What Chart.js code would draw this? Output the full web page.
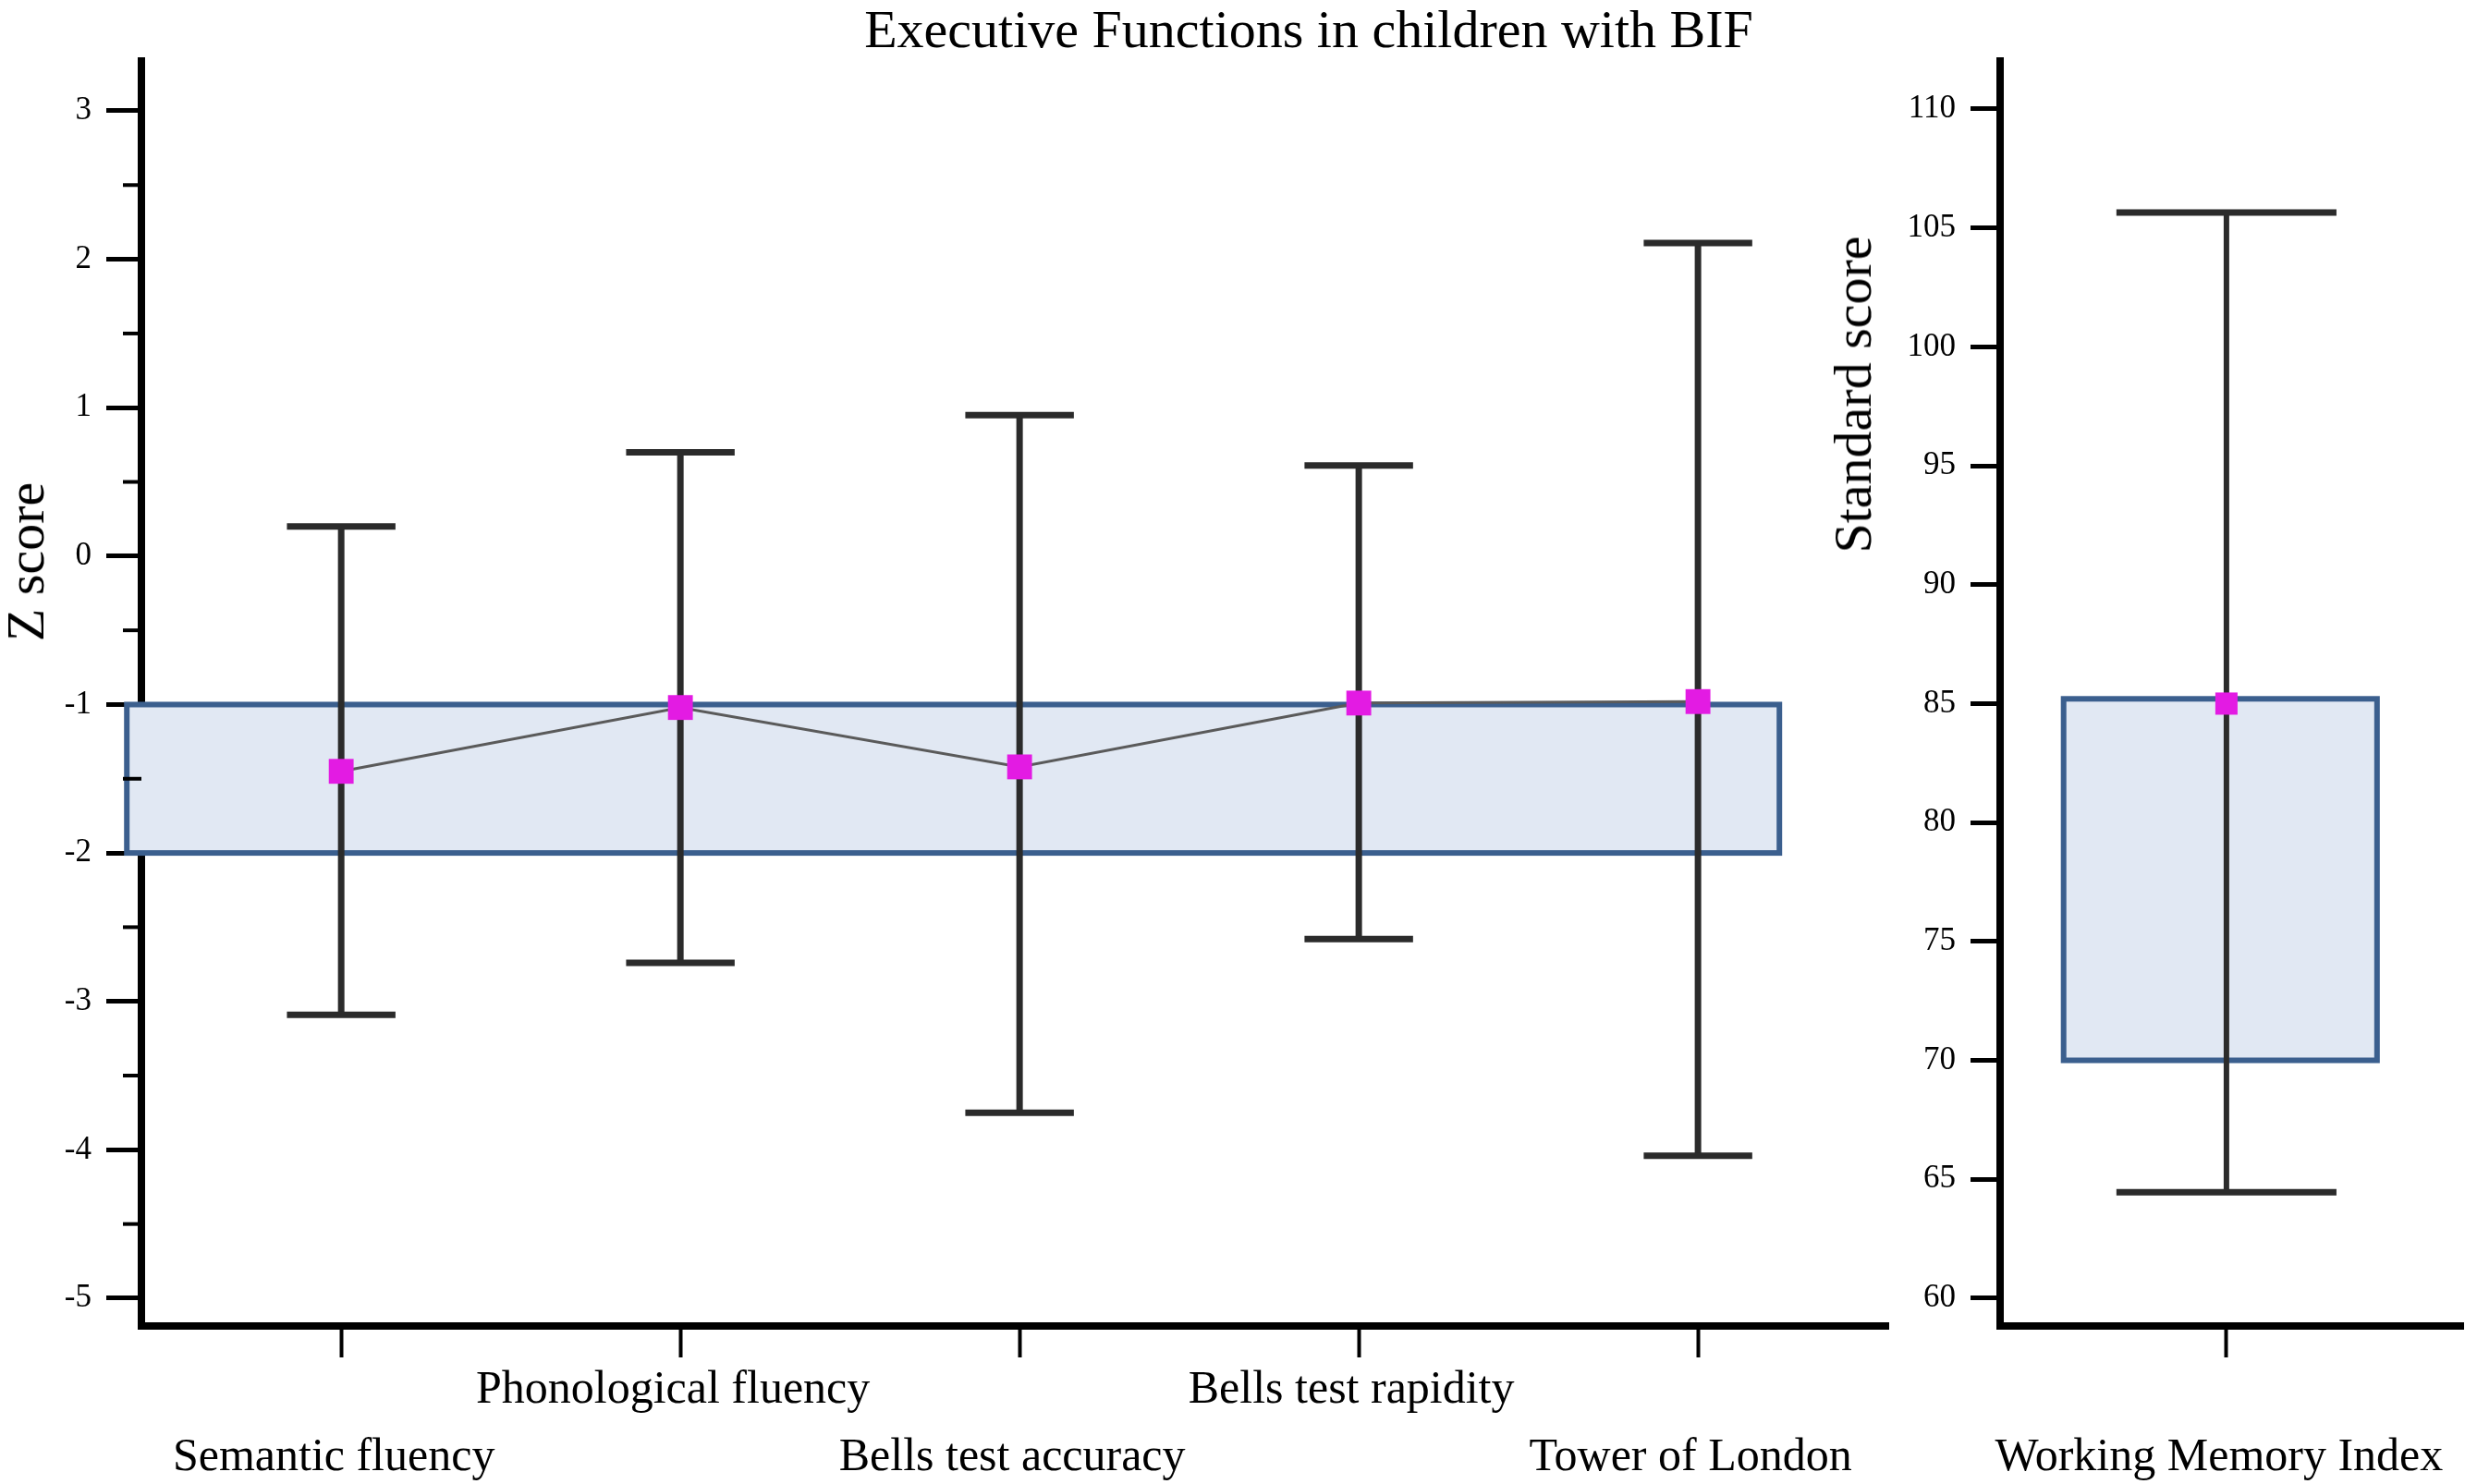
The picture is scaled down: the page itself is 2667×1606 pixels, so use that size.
<!DOCTYPE html>
<html>
<head>
<meta charset="utf-8">
<title>Executive Functions in children with BIF</title>
<script src="https://cdn.jsdelivr.net/npm/chart.js@4.4.1/dist/chart.umd.min.js"></script>
<style>
  html, body { margin: 0; padding: 0; background: #fff; overflow: hidden; width: 2667px; height: 1606px; }
  .txt { position: absolute; font-family: 'Liberation Serif', 'Times New Roman', serif; color: #000; white-space: nowrap; }
  #title { top: 3px; left: 200px; width: 2432px; text-align: center; font-size: 58px; line-height: 58px; }
  .ytitle { font-size: 58px; line-height: 58px; transform: translate(-50%, -50%) rotate(-90deg); }
  #left { position: absolute; left: 0; top: 0; width: 2060px; height: 1606px; }
  #right { position: absolute; left: 1975px; top: 0; width: 692px; height: 1606px; }
</style>
</head>
<body>
<div id="left"><canvas id="efChart"></canvas></div>
<div id="right"><canvas id="wmChart"></canvas></div>
<div id="title" class="txt">Executive Functions in children with BIF</div>
<div class="txt ytitle" style="left:28px; top:608px;">Z score</div>
<div class="txt ytitle" style="left:2005px; top:427px;">Standard score</div>
<script>
// left panel: z scores
const tests = ["Semantic fluency", "Phonological fluency", "Bells test accuracy", "Bells test rapidity", "Tower of London"];
const zMeans = [-1.45, -1.02, -1.42, -0.99, -0.98];
const zLow = [-3.09, -2.74, -3.75, -2.58, -4.04];
const zHigh = [0.20, 0.70, 0.95, 0.61, 2.11];
const zBand = [-2, -1];
const zTicks = [-5, -4, -3, -2, -1, 0, 1, 2, 3];

// right panel: standard score
const wmTests = ["Working Memory Index"];
const wmMeans = [85];
const wmLow = [64.45];
const wmHigh = [105.65];
const wmBand = [70, 85.2];
const wmTicks = [60, 65, 70, 75, 80, 85, 90, 95, 100, 105, 110];

const serif = "'Liberation Serif', 'Times New Roman', serif";
const barColor = '#2b2b2b';

// band + error bars, drawn under the mean line
function rangesPlugin(o) {
    return {
        id: 'ranges',
        beforeDatasetsDraw(chart) {
            const ctx = chart.ctx;
            const x = chart.scales.x, y = chart.scales.y;
            const bx0 = x.getPixelForValue(o.bandFrom), bx1 = x.getPixelForValue(o.bandTo);
            const by0 = y.getPixelForValue(o.band[1]), by1 = y.getPixelForValue(o.band[0]);
            ctx.save();
            ctx.fillStyle = '#e1e8f3';
            ctx.fillRect(bx0, by0, bx1 - bx0, by1 - by0);
            ctx.lineWidth = o.bandLine;
            ctx.strokeStyle = '#3b5f8e';
            ctx.strokeRect(bx0, by0, bx1 - bx0, by1 - by0);

            ctx.strokeStyle = barColor;
            o.low.forEach(function (lo, i) {
                const px = x.getPixelForValue(i);
                const pl = y.getPixelForValue(lo);
                const ph = y.getPixelForValue(o.high[i]);
                const c0 = x.getPixelForValue(i - o.cap), c1 = x.getPixelForValue(i + o.cap);
                ctx.lineWidth = o.stem;
                ctx.beginPath();
                ctx.moveTo(px, pl);
                ctx.lineTo(px, ph);
                ctx.stroke();
                ctx.lineWidth = o.capLine;
                ctx.beginPath();
                ctx.moveTo(c0, pl); ctx.lineTo(c1, pl);
                ctx.moveTo(c0, ph); ctx.lineTo(c1, ph);
                ctx.stroke();
            });
            ctx.restore();
        }
    };
}

// short ticks half way between the labelled ones (left axis only)
const minorTicks = {
    id: 'minorTicks',
    afterDraw(chart) {
        const ctx = chart.ctx, y = chart.scales.y;
        const left = chart.chartArea.left;
        ctx.save();
        ctx.strokeStyle = '#000';
        ctx.lineWidth = 4;
        for (let i = 1; i < zTicks.length; i++) {
            const py = y.getPixelForValue((zTicks[i] + zTicks[i - 1]) / 2);
            ctx.beginPath();
            ctx.moveTo(left - 20, py);
            ctx.lineTo(left, py);
            ctx.stroke();
        }
        ctx.restore();
    }
};

function yScale(min, max, ticks, width, tickLen) {
    return {
        type: 'linear',
        min: min,
        max: max,
        afterBuildTicks: s => { s.ticks = ticks.map(v => ({value: v})); },
        afterFit: s => { s.width = width; },
        border: {display: true, color: '#000', width: 8},
        grid: {drawOnChartArea: false, drawTicks: true, tickLength: tickLen, tickWidth: 5, tickColor: '#000'},
        ticks: {
            padding: 16,
            color: '#000',
            font: {family: serif, size: 35},
            callback: v => String(v)
        }
    };
}

function xScale(min, max, labels) {
    return {
        type: 'linear',
        min: min,
        max: max,
        afterBuildTicks: s => { s.ticks = labels.map((l, i) => ({value: i})); },
        afterFit: s => {
            s.height = 171;
            s.paddingLeft = 0;
            s.paddingRight = 0;
        },
        border: {display: true, color: '#000', width: 8},
        grid: {drawOnChartArea: false, drawTicks: true, tickLength: 34, tickWidth: 4, tickColor: '#000'},
        ticks: {
            padding: 0,
            labelOffset: -8,
            maxRotation: 0,
            autoSkip: false,
            color: '#000',
            font: {family: serif, size: 50, lineHeight: 1.45},
            callback: v => (v % 2 === 1 ? [labels[v], ''] : ['', labels[v]])
        }
    };
}

const common = {
    responsive: true,
    maintainAspectRatio: false,
    animation: false,
    devicePixelRatio: 1,
    plugins: {legend: {display: false}, tooltip: {enabled: false}, title: {display: false}}
};

new Chart(document.getElementById('efChart'), {
    type: 'scatter',
    data: {
        datasets: [{
            data: zMeans.map((v, i) => ({x: i, y: v})),
            showLine: true,
            borderColor: '#5a5a5a',
            borderWidth: 3,
            pointStyle: 'rect',
            pointRadius: 19,
            pointBorderWidth: 0,
            pointBackgroundColor: '#e31be3'
        }]
    },
    options: Object.assign({}, common, {
        layout: {autoPadding: false, padding: {left: 0, top: 66, right: 17, bottom: 0}},
        scales: {
            x: xScale(-0.589, 4.561, tests),
            y: yScale(-5.187, 3.336, zTicks, 153, 38)
        }
    }),
    plugins: [rangesPlugin({
        band: zBand, bandFrom: -0.632, bandTo: 4.24, bandLine: 6,
        low: zLow, high: zHigh, cap: 0.16, stem: 7, capLine: 7
    }), minorTicks]
});

new Chart(document.getElementById('wmChart'), {
    type: 'scatter',
    data: {
        datasets: [{
            data: wmMeans.map((v, i) => ({x: i, y: v})),
            pointStyle: 'rect',
            pointRadius: 17,
            pointBorderWidth: 0,
            pointBackgroundColor: '#e31be3'
        }]
    },
    options: Object.assign({}, common, {
        layout: {autoPadding: false, padding: {left: 0, top: 66, right: 2, bottom: 0}},
        scales: {
            x: xScale(-0.72, 0.753, wmTests),
            y: yScale(58.83, 112.02, wmTicks, 189, 32)
        }
    }),
    plugins: [rangesPlugin({
        band: wmBand, bandFrom: -0.518, bandTo: 0.479, bandLine: 6,
        low: wmLow, high: wmHigh, cap: 0.35, stem: 6, capLine: 7
    })]
});
</script>
</body>
</html>
